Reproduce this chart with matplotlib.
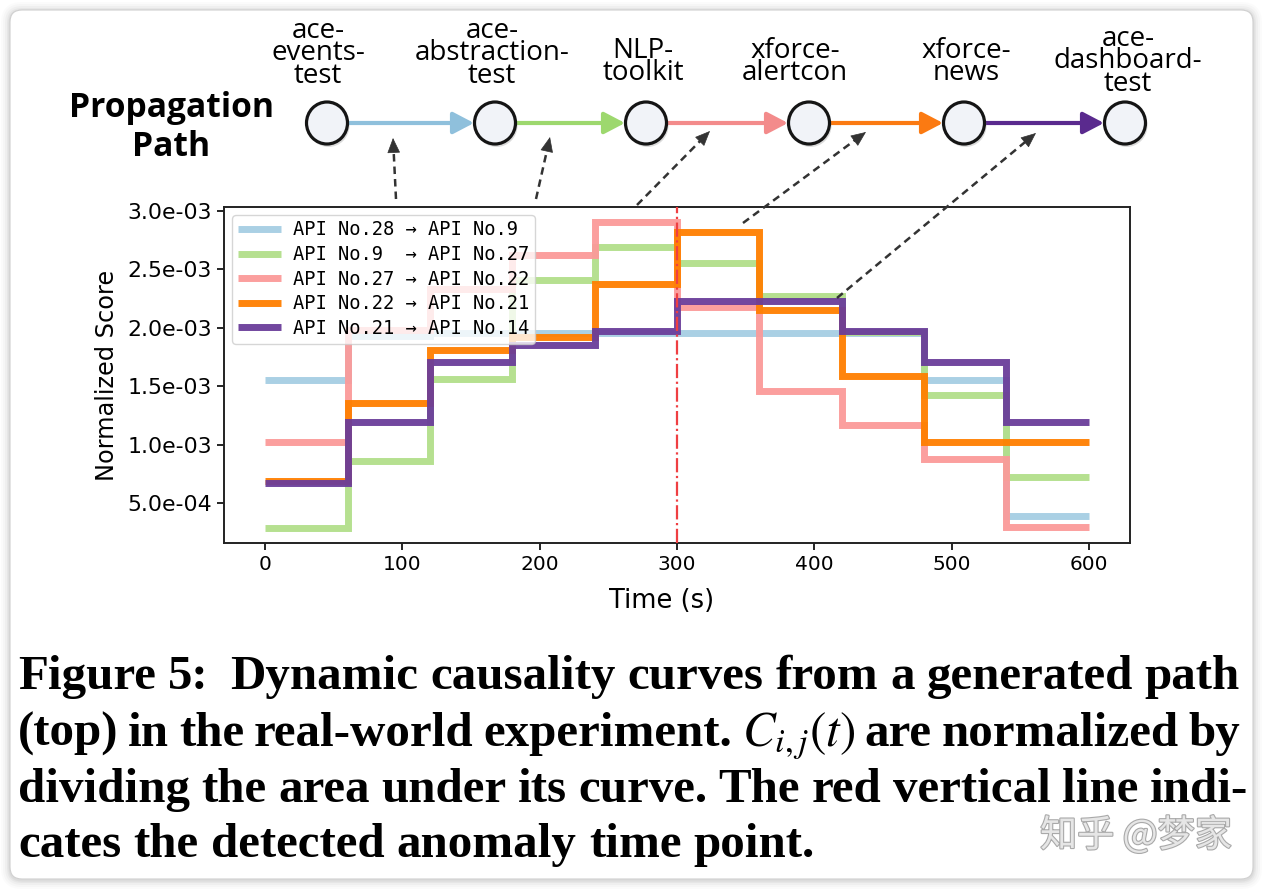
import matplotlib
matplotlib.use('Agg')
import matplotlib.pyplot as plt
from matplotlib.patches import Ellipse, FancyArrowPatch, FancyBboxPatch
from matplotlib.lines import Line2D
from matplotlib.ticker import FormatStrFormatter
from matplotlib.font_manager import FontProperties
import matplotlib.patheffects as pe
import numpy as np

plt.rcParams['mathtext.fontset'] = 'stix'

W, H = 1264, 890

# ---------------- data ----------------
times = [0, 60, 120, 180, 240, 300, 360, 420, 480, 540, 600]
series_labels = ['API No.28 \u2192 API No.9',
                 'API No.9  \u2192 API No.27',
                 'API No.27 \u2192 API No.22',
                 'API No.22 \u2192 API No.21',
                 'API No.21 \u2192 API No.14']
api28_9 = [1.55e-3, 1.93e-3, 1.95e-3, 1.95e-3, 1.95e-3, 1.95e-3, 1.95e-3, 1.95e-3, 1.55e-3, 0.39e-3]
api9_27 = [0.29e-3, 0.86e-3, 1.56e-3, 2.41e-3, 2.69e-3, 2.55e-3, 2.27e-3, 1.96e-3, 1.42e-3, 0.72e-3]
api27_22 = [1.02e-3, 1.98e-3, 2.33e-3, 2.62e-3, 2.90e-3, 2.18e-3, 1.46e-3, 1.17e-3, 0.88e-3, 0.30e-3]
api22_21 = [0.69e-3, 1.36e-3, 1.81e-3, 1.92e-3, 2.37e-3, 2.82e-3, 2.15e-3, 1.59e-3, 1.02e-3, 1.02e-3]
api21_14 = [0.67e-3, 1.19e-3, 1.71e-3, 1.85e-3, 1.97e-3, 2.23e-3, 2.23e-3, 1.97e-3, 1.71e-3, 1.19e-3]
series = [api28_9, api9_27, api27_22, api22_21, api21_14]
series_colors = ['#a6cee3', '#b2df8a', '#fb9a99', '#ff7f00', '#6a3d9a']
anomaly_time = 300
xticks = [0, 100, 200, 300, 400, 500, 600]
yticks = [5e-4, 1e-3, 1.5e-3, 2e-3, 2.5e-3, 3e-3]

node_names = ['ace-\nevents-\ntest',
              'ace-\nabstraction-\ntest',
              'NLP-\ntoolkit',
              'xforce-\nalertcon',
              'xforce-\nnews',
              'ace-\ndashboard-\ntest']
edge_colors = ['#8fc0dc', '#9dd86e', '#f38b8b', '#fb7a12', '#5a2a8e']

caption_lines = [
    ['Figure', '5:', 'Dynamic', 'causality', 'curves', 'from', 'a', 'generated', 'path'],
    ['(top)', 'in', 'the', 'real-world', 'experiment.', '$C_{i,j}(t)$', 'are', 'normalized', 'by'],
    ['dividing', 'the', 'area', 'under', 'its', 'curve.', 'The', 'red', 'vertical', 'line', 'indi-'],
    ['cates', 'the', 'detected', 'anomaly', 'time', 'point.'],
]
watermark = '\u77e5\u4e4e @\u68a6\u5bb6'

# ---------------- figure ----------------
fig = plt.figure(figsize=(W / 100, H / 100), dpi=100)
fig.patch.set_facecolor('white')

bg = fig.add_axes([0, 0, 1, 1], zorder=0)
bg.set_xlim(0, W); bg.set_ylim(H, 0); bg.axis('off')
for pad, a in [(9, 0.025), (7, 0.035), (5, 0.05), (3, 0.07), (1.5, 0.09)]:
    bg.add_patch(FancyBboxPatch((10 - pad, 11 - pad), 1243 + 2 * pad, 869 + 2 * pad,
                                boxstyle='round,pad=0,rounding_size=%g' % (12 + pad),
                                fc='#7a7a7a', ec='none', alpha=a))
bg.add_patch(FancyBboxPatch((10, 10), 1243, 869, boxstyle='round,pad=0,rounding_size=12',
                            fc='white', ec='#d0d0d0', lw=0.8))

# ---------------- chart ----------------
ax = fig.add_axes([224 / W, 1 - 543 / H, 906 / W, 336 / H], zorder=1)
ax.set_facecolor('white')
for vals, lab, col in zip(series, series_labels, series_colors):
    ax.plot(times, list(vals) + [vals[-1]], drawstyle='steps-post', lw=5, color=col,
            label=lab, solid_joinstyle='miter', solid_capstyle='butt', alpha=0.95)
ax.axvline(anomaly_time, color='#ef3f42', ls='-.', lw=1.6, zorder=4)
ax.set_xticks(xticks)
ax.set_yticks(yticks)
ax.yaxis.set_major_formatter(FormatStrFormatter('%.1e'))
ax.tick_params(length=5, width=1.2)
ax.tick_params(axis='x', labelsize=14.5)
ax.tick_params(axis='y', labelsize=15.8)
ax.set_xlabel('Time (s)', fontsize=18.5, va='center')
ax.xaxis.set_label_coords(0.483, -0.173)
ax.set_ylabel('Normalized Score', fontsize=17.3, va='center')
ax.yaxis.set_label_coords(-0.129, 0.5)
for s in ax.spines.values():
    s.set_linewidth(1.4)
    s.set_color('#222222')
leg = ax.legend(loc='upper left', prop={'family': 'DejaVu Sans Mono', 'size': 13.5},
                handlelength=2.3, labelspacing=0.3, framealpha=0.8, borderaxespad=0.42,
                handletextpad=0.64, borderpad=0.3)

# ---------------- overlay (pixel coordinates) ----------------
ov = fig.add_axes([0, 0, 1, 1], zorder=3)
ov.set_xlim(0, W); ov.set_ylim(H, 0); ov.axis('off')
ov.patch.set_alpha(0)
renderer = fig.canvas.get_renderer()


def fit(t, target):
    w = t.get_window_extent(renderer).width
    t.set_fontsize(t.get_fontsize() * target / w)


# Propagation Path title
t1 = ov.text(171, 117, 'Propagation', fontsize=22, fontweight='bold', family='Open Sans',
             ha='center', va='baseline')
fit(t1, 205)
ov.text(171, 156, 'Path', fontsize=t1.get_fontsize(), fontweight='bold', family='Open Sans',
        ha='center', va='baseline')

node_x = [327, 495, 646, 809, 964, 1125]
node_y = 123
label_x = [318, 492, 643, 795, 966, 1128]
label_last_base = [83, 83, 80, 80, 80, 91]

for i in range(len(node_x) - 1):
    ov.add_patch(FancyArrowPatch((node_x[i] + 21, node_y), (node_x[i + 1] - 21, node_y),
                                 arrowstyle='-|>,head_length=1.05,head_width=0.55',
                                 mutation_scale=12, lw=3, color=edge_colors[i],
                                 shrinkA=0, shrinkB=0, zorder=2))
for x in node_x:
    ov.add_patch(Ellipse((x + 1.5, node_y + 2.5), 42, 43, fc='#9a9a9a', ec='none', alpha=0.35, zorder=3))
    ov.add_patch(Ellipse((x, node_y), 41, 42, fc='#f1f3f8', ec='#151515', lw=2.3, zorder=4))

lab_fs = 20
fp = FontProperties(family='Open Sans', size=lab_fs)
_, lp_h, lp_d = renderer.get_text_width_height_descent('lp', fp, ismath=False)
lab_ls = (22.5 - lp_d) / (lp_h - lp_d)
for lx, name, b in zip(label_x, node_names, label_last_base):
    ov.text(lx, b, name, fontsize=lab_fs, family='Open Sans', ha='center', va='baseline',
            multialignment='center', linespacing=lab_ls)

# dashed pointer arrows (tail -> head)
pointers = [((396, 199), (393, 138)), ((536, 199), (550, 137)), ((637, 205), (710, 131)),
            ((743, 223), (866, 132)), ((837, 298), (1036, 133))]
for (x0, y0), (x1, y1) in pointers:
    d = np.hypot(x1 - x0, y1 - y0)
    ux, uy = (x1 - x0) / d, (y1 - y0) / d
    ov.add_line(Line2D([x0, x1 - ux * 10], [y0, y1 - uy * 10], color='#333333', lw=1.8,
                       linestyle=(0, (3, 2)), zorder=5))
    ov.add_patch(FancyArrowPatch((x1 - ux * 14, y1 - uy * 14), (x1, y1),
                                 arrowstyle='-|>,head_length=1.4,head_width=0.6',
                                 mutation_scale=7, lw=0.5, color='#333333',
                                 shrinkA=0, shrinkB=0, zorder=5))

# ---------------- caption ----------------
cap_font = dict(family='Liberation Serif', fontweight='bold', va='baseline', ha='left')


def make_line(tokens, y, fs):
    ts = [ov.text(0, y, tok, fontsize=fs, **cap_font) for tok in tokens]
    ws = [t.get_window_extent(renderer).width for t in ts]
    return ts, ws


# calibrate font size on last (non-justified) line: 18 -> 815 px
fs0 = 29
ts, ws = make_line(caption_lines[3], 857, fs0)
space0 = fs0 * 100 / 72 * 0.25
nat = sum(ws) + space0 * (len(ws) - 1)
for t in ts:
    t.remove()
fs = fs0 * 797 / nat
space = fs * 100 / 72 * 0.25

baselines = [689, 746, 802, 857]
rights = [1240, 1240, 1248, None]
for k, (tokens, yb, xr) in enumerate(zip(caption_lines, baselines, rights)):
    ts, ws = make_line(tokens, yb, fs)
    weights = [1.0] * (len(tokens) - 1)
    if k == 0:
        weights[1] = 1.8
    if xr is None:
        gaps = [space] * (len(tokens) - 1)
    else:
        g = (xr - 18 - sum(ws)) / sum(weights)
        gaps = [g * wt for wt in weights]
    x = 18
    for i, (t, w) in enumerate(zip(ts, ws)):
        t.set_x(x)
        if i < len(gaps):
            x += w + gaps[i]

# watermark
wm = ov.text(1136, 836, watermark, fontsize=24, family=['Noto Sans CJK SC', 'DejaVu Sans'],
             color='#e6e6e6', ha='center', va='center', zorder=6,
             path_effects=[pe.withStroke(linewidth=1.6, foreground='#a9a9a9')])
fit(wm, 192)

fig.savefig('out.png', dpi=100, facecolor='white')
